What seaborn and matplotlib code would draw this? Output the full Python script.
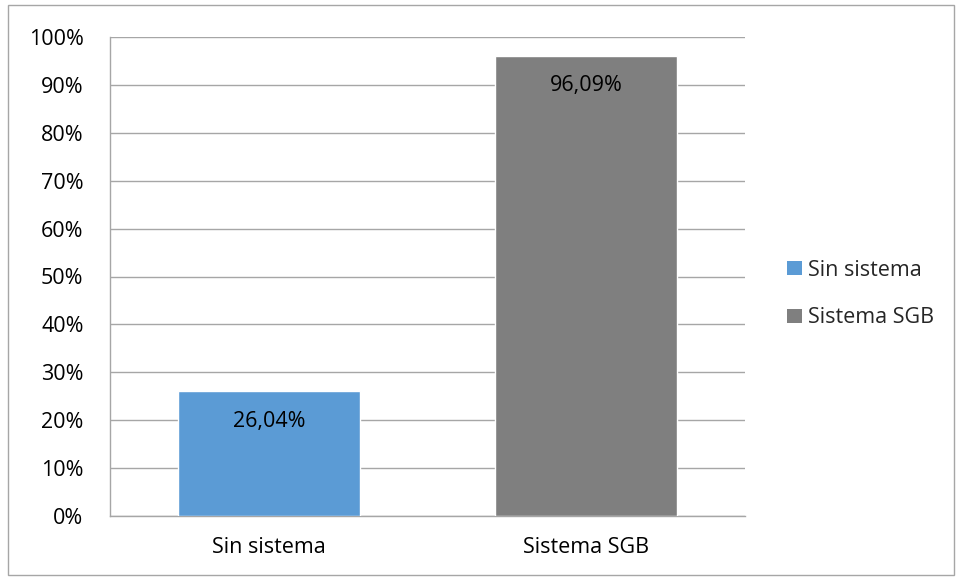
import matplotlib
matplotlib.use("Agg")
import matplotlib.pyplot as plt
from matplotlib.patches import Rectangle, Patch
from matplotlib.ticker import PercentFormatter, MultipleLocator
import seaborn as sns
import pandas as pd

categories = ["Sin sistema", "Sistema SGB"]
values = [26.04, 96.09]
colors = ["#5B9BD5", "#7F7F7F"]
value_labels = ["26,04%", "96,09%"]

sns.set_theme(style="white")
plt.rcParams["font.family"] = ["Open Sans", "DejaVu Sans"]

df = pd.DataFrame({"categoria": categories, "valor": values})

fig = plt.figure(figsize=(9.58, 5.77), dpi=100)
ax = fig.add_axes([110 / 958, 1 - 516 / 577, 635 / 958, 479 / 577])

sns.barplot(data=df, x="categoria", y="valor", hue="categoria",
            palette=colors, dodge=False, width=0.572, legend=False,
            saturation=1, ax=ax, zorder=3)

ax.set_xlim(-0.5, 1.5)
ax.set_ylim(0, 100)
ax.yaxis.set_major_locator(MultipleLocator(10))
ax.yaxis.set_major_formatter(PercentFormatter(decimals=0))
ax.grid(axis="y", color="#A6A6A6", linewidth=1, zorder=0)
ax.set_axisbelow(True)
for s in ["top", "right"]:
    ax.spines[s].set_visible(False)
for s in ["left", "bottom"]:
    ax.spines[s].set_color("#A6A6A6")
    ax.spines[s].set_linewidth(1)
ax.set_xlabel("")
ax.set_ylabel("")
ax.tick_params(axis="both", length=0, labelsize=15.5, colors="black")
ax.tick_params(axis="y", pad=19)
ax.tick_params(axis="x", pad=15)

for i, (v, lab) in enumerate(zip(values, value_labels)):
    ax.annotate(lab, (i, v), xytext=(0, -21.5), textcoords="offset points",
                ha="center", va="center", fontsize=15.5, color="black", zorder=4)

handles = [Patch(facecolor=c, edgecolor="none") for c in colors]
fig.legend(handles, categories, loc="center left",
           bbox_to_anchor=(768 / 958, 1 - 294 / 577), frameon=False,
           fontsize=15.5, handlelength=0.68, handleheight=0.68,
           handletextpad=0.3, labelspacing=1.25)

fig.patches.append(Rectangle((8 / 958, 2 / 577), 946 / 958, 570 / 577,
                             transform=fig.transFigure, fill=False,
                             edgecolor="#A6A6A6", linewidth=1))

fig.savefig("out.png", dpi=100)
